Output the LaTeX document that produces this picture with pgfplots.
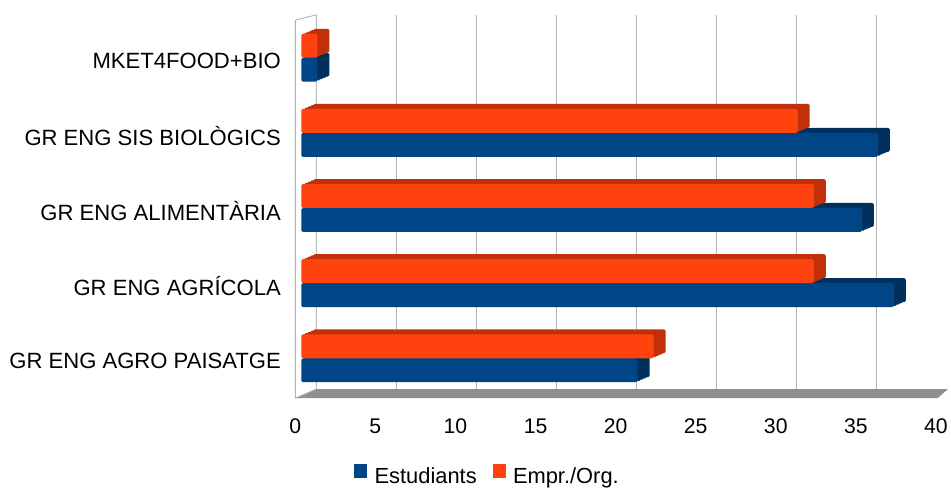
\documentclass[border=0pt]{standalone}
\usepackage{pgfplots}
\usepackage{pgfplotstable}
\pgfplotsset{compat=1.18}
\usepackage{fontspec}
\setmainfont{Liberation Sans}
\definecolor{cblue}{HTML}{004586}
\definecolor{cblueD}{HTML}{00305E}
\definecolor{corange}{HTML}{FF420E}
\definecolor{corangeD}{HTML}{C2300A}
\definecolor{gridc}{HTML}{B3B3B3}
\definecolor{floorc}{HTML}{8F8F8F}
\pgfplotstableread{
y estud empr
0 21 22
1 37 32
2 35 32
3 36 31
4 1 1
}\datatable
\begin{document}
\begin{tikzpicture}
\begin{axis}[
  scale only axis, width=642bp, height=375bp,
  xmin=0, xmax=40, ymin=-0.41, ymax=4.57,
  xtick={0,5,...,40},
  ytick={0,1,2,3,4},
  yticklabels={GR ENG AGRO PAISATGE, GR ENG AGRÍCOLA, GR ENG ALIMENTÀRIA, GR ENG SIS BIOLÒGICS, MKET4FOOD+BIO},
  axis line style={draw=none},
  major tick length=0pt,
  tick style={draw=none},
  extra x ticks={0,5,...,35},
  extra x tick labels={},
  extra x tick style={grid=major, major grid style={draw=gridc, line width=0.9bp, xshift=21bp}},
  clip=false,
  xbar, bar width=24bp,
  /pgf/number format/assume math mode=true,
  xticklabel style={font=\fontsize{21.3}{25}\selectfont, text=black, yshift=-26bp},
  yticklabel style={font=\fontsize{22.2}{26}\selectfont, text=black, xshift=-11bp, yshift=-3bp},
  legend style={at={(0.3,-0.232)}, anchor=center, draw=none, fill=none,
    legend columns=2, font=\fontsize{22}{26}\selectfont,
    /tikz/every even column/.append style={column sep=14bp}},
  legend cell align=left,
]
% canvas
\path (axis cs:-18.44,-1.607) rectangle (axis cs:40.81,4.768);
% floor
\fill[floorc] (axis cs:0,-0.53) -- (axis cs:40.12,-0.53) -- (axis cs:40.75,-0.41) -- (axis cs:1.31,-0.41) -- cycle;
% left wall
\filldraw[draw=gridc, line width=0.9bp, fill=white] (axis cs:0,-0.53) -- (axis cs:0,4.50) -- (axis cs:1.31,4.57) -- (axis cs:1.31,-0.41) -- cycle;
% back / side faces (depth layers)
\addplot[forget plot, fill=cblueD, draw=none, bar shift=-12bp, xshift=18bp, yshift=5bp, rounded corners=1.5bp] table[x=estud, y=y] {\datatable};
\addplot[forget plot, fill=corangeD, draw=none, bar shift=12bp, xshift=18bp, yshift=5bp, rounded corners=1.5bp] table[x=empr, y=y] {\datatable};
\addplot[forget plot, fill=cblueD, draw=none, bar shift=-12bp, xshift=15bp, yshift=3.75bp, rounded corners=1.5bp] table[x=estud, y=y] {\datatable};
\addplot[forget plot, fill=corangeD, draw=none, bar shift=12bp, xshift=15bp, yshift=3.75bp, rounded corners=1.5bp] table[x=empr, y=y] {\datatable};
\addplot[forget plot, fill=cblueD, draw=none, bar shift=-12bp, xshift=12bp, yshift=2.5bp, rounded corners=1.5bp] table[x=estud, y=y] {\datatable};
\addplot[forget plot, fill=corangeD, draw=none, bar shift=12bp, xshift=12bp, yshift=2.5bp, rounded corners=1.5bp] table[x=empr, y=y] {\datatable};
\addplot[forget plot, fill=cblueD, draw=none, bar shift=-12bp, xshift=9bp, yshift=1.25bp, rounded corners=1.5bp] table[x=estud, y=y] {\datatable};
\addplot[forget plot, fill=corangeD, draw=none, bar shift=12bp, xshift=9bp, yshift=1.25bp, rounded corners=1.5bp] table[x=empr, y=y] {\datatable};
% front faces
\addplot[forget plot, fill=cblue, draw=none, bar shift=-12bp, xshift=6bp, rounded corners=1.5bp] table[x=estud, y=y] {\datatable};
\addplot[forget plot, fill=corange, draw=none, bar shift=12bp, xshift=6bp, rounded corners=1.5bp] table[x=empr, y=y] {\datatable};
\addlegendimage{legend image code/.code={\fill[cblue] (0bp,-1bp) rectangle (12bp,12bp); \path (18bp,0);}}
\addlegendentry{Estudiants}
\addlegendimage{legend image code/.code={\fill[corange] (0bp,-1bp) rectangle (12bp,12bp); \path (18bp,0);}}
\addlegendentry{Empr./Org.}
\end{axis}
\end{tikzpicture}
\end{document}
